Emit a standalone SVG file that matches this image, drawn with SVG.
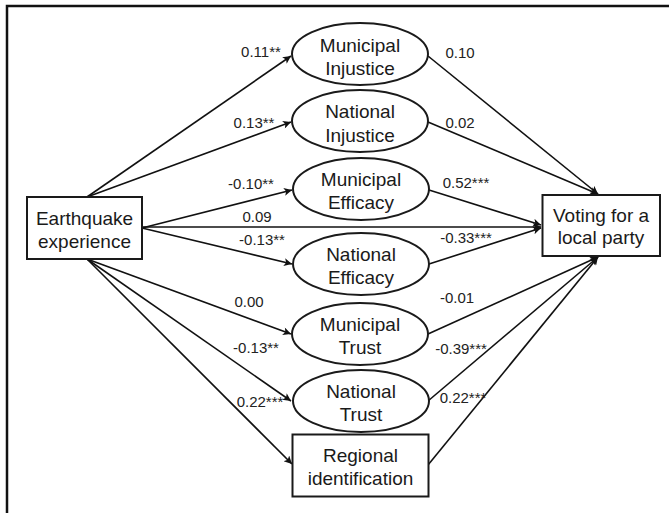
<svg xmlns="http://www.w3.org/2000/svg" width="669" height="513" viewBox="0 0 669 513">
<defs>
<style>
.frame{fill:none;stroke:#111;stroke-width:2.5}
.node{fill:#fff;stroke:#1a1a1a;stroke-width:2}
.nt{font-family:"Liberation Sans",Arial,sans-serif;font-size:19px;fill:#1a1a1a;text-anchor:middle}
.lb{font-family:"Liberation Sans",Arial,sans-serif;font-size:15px;fill:#222;text-anchor:middle}
.edge{fill:none;stroke:#111;stroke-width:1.6;marker-end:url(#ah)}
</style>
<marker id="ah" viewBox="0 0 10 10" refX="10" refY="5" markerWidth="9" markerHeight="8" markerUnits="userSpaceOnUse" orient="auto">
<path d="M0,0 L10,5 L0,10 L2.5,5 Z" fill="#111"/>
</marker>
</defs>
<rect width="669" height="513" fill="#fff"/>
<rect class="frame" x="7" y="6" width="700" height="600"/>

<g id="connectors">
<line class="edge" x1="87" y1="197" x2="291" y2="56"/>
<line class="edge" x1="87" y1="197" x2="291" y2="122"/>
<line class="edge" x1="142" y1="228" x2="292" y2="190"/>
<line class="edge" x1="142" y1="227" x2="541" y2="227"/>
<line class="edge" x1="142" y1="228" x2="292" y2="264"/>
<line class="edge" x1="87" y1="259" x2="291" y2="334"/>
<line class="edge" x1="87" y1="259" x2="291" y2="401"/>
<line class="edge" x1="87" y1="259" x2="292" y2="464"/>
<line class="edge" x1="428" y1="56" x2="598" y2="194"/>
<line class="edge" x1="428" y1="122" x2="598" y2="194"/>
<line class="edge" x1="429" y1="190" x2="541" y2="225"/>
<line class="edge" x1="429" y1="264" x2="541" y2="228"/>
<line class="edge" x1="428" y1="334" x2="598" y2="257"/>
<line class="edge" x1="428" y1="401" x2="598" y2="257"/>
<line class="edge" x1="428" y1="465" x2="598" y2="257"/>
</g>

<g id="labels">
<text class="lb" x="261" y="57">0.11**</text>
<text class="lb" x="254" y="128">0.13**</text>
<text class="lb" x="251" y="189">-0.10**</text>
<text class="lb" x="257" y="222">0.09</text>
<text class="lb" x="262" y="245">-0.13**</text>
<text class="lb" x="249" y="307">0.00</text>
<text class="lb" x="256" y="353">-0.13**</text>
<text class="lb" x="260" y="407">0.22***</text>
<text class="lb" x="460" y="58">0.10</text>
<text class="lb" x="460" y="128">0.02</text>
<text class="lb" x="466" y="188">0.52***</text>
<text class="lb" x="466" y="243">-0.33***</text>
<text class="lb" x="457" y="303">-0.01</text>
<text class="lb" x="461" y="354">-0.39***</text>
<text class="lb" x="463" y="403">0.22***</text>
</g>

<g id="earthquake">
<rect class="node" x="27" y="197" width="115" height="62"/>
<text class="nt" x="84.5" y="225">Earthquake</text>
<text class="nt" x="84.5" y="248">experience</text>
</g>

<g id="municipal-injustice">
<ellipse class="node" cx="360" cy="54" rx="68" ry="31"/>
<text class="nt" x="360" y="51.5">Municipal</text>
<text class="nt" x="360" y="75">Injustice</text>
</g>

<g id="national-injustice">
<ellipse class="node" cx="360" cy="121" rx="68" ry="31"/>
<text class="nt" x="360" y="118">National</text>
<text class="nt" x="360" y="141.5">Injustice</text>
</g>

<g id="municipal-efficacy">
<ellipse class="node" cx="361" cy="189" rx="68" ry="31"/>
<text class="nt" x="361" y="185.5">Municipal</text>
<text class="nt" x="361" y="208.5">Efficacy</text>
</g>

<g id="national-efficacy">
<ellipse class="node" cx="361" cy="264" rx="68" ry="31"/>
<text class="nt" x="361" y="260.5">National</text>
<text class="nt" x="361" y="283.5">Efficacy</text>
</g>

<g id="municipal-trust">
<ellipse class="node" cx="360" cy="334" rx="68" ry="31"/>
<text class="nt" x="360" y="330.5">Municipal</text>
<text class="nt" x="360" y="353.5">Trust</text>
</g>

<g id="national-trust">
<ellipse class="node" cx="361" cy="401" rx="68" ry="31"/>
<text class="nt" x="361" y="397.5">National</text>
<text class="nt" x="361" y="420.5">Trust</text>
</g>

<g id="regional-identification">
<rect class="node" x="292.5" y="434.5" width="136" height="62"/>
<text class="nt" x="360.5" y="461.5">Regional</text>
<text class="nt" x="360.5" y="484.5">identification</text>
</g>

<g id="voting">
<rect class="node" x="542.5" y="195" width="117.5" height="61"/>
<text class="nt" x="601" y="221.5">Voting for a</text>
<text class="nt" x="601" y="243.5">local party</text>
</g>
</svg>
